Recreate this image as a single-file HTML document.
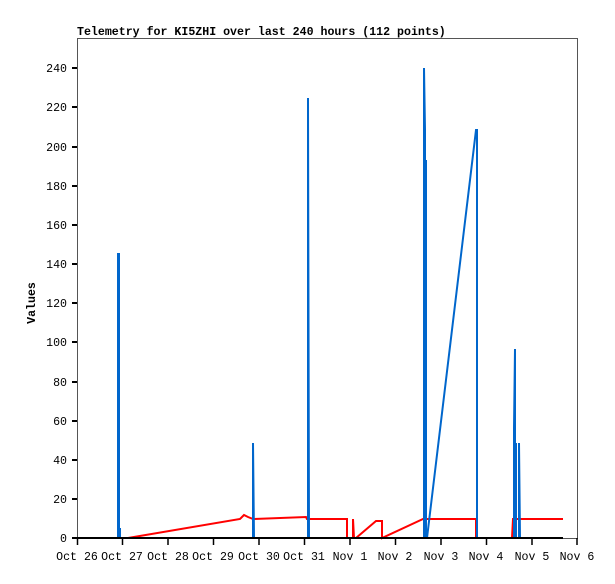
<!DOCTYPE html>
<html><head><style>
body{margin:0;background:#fff}
svg text{font-family:"Liberation Mono",monospace;font-size:11.6px;fill:#000}
</style></head><body>
<svg width="615" height="579" xmlns="http://www.w3.org/2000/svg">
<rect width="615" height="579" fill="#fff"/>
<text x="77" y="35" style="font-weight:bold">Telemetry for KI5ZHI over last 240 hours (112 points)</text>
<text transform="translate(35,303) rotate(-90)" text-anchor="middle" style="font-weight:bold">Values</text>
<rect x="77.5" y="38.5" width="500" height="500" fill="none" stroke="#555" stroke-width="1"/>
<g stroke="#000" stroke-width="2">
<line x1="72" y1="538" x2="77" y2="538"/><line x1="72" y1="499" x2="77" y2="499"/><line x1="72" y1="460" x2="77" y2="460"/><line x1="72" y1="421" x2="77" y2="421"/><line x1="72" y1="382" x2="77" y2="382"/><line x1="72" y1="342" x2="77" y2="342"/><line x1="72" y1="303" x2="77" y2="303"/><line x1="72" y1="264" x2="77" y2="264"/><line x1="72" y1="225" x2="77" y2="225"/><line x1="72" y1="186" x2="77" y2="186"/><line x1="72" y1="147" x2="77" y2="147"/><line x1="72" y1="107" x2="77" y2="107"/><line x1="72" y1="68" x2="77" y2="68"/>
</g>
<g text-anchor="end">
<text x="67" y="542">0</text><text x="67" y="503">20</text><text x="67" y="464">40</text><text x="67" y="425">60</text><text x="67" y="386">80</text><text x="67" y="346">100</text><text x="67" y="307">120</text><text x="67" y="268">140</text><text x="67" y="229">160</text><text x="67" y="190">180</text><text x="67" y="151">200</text><text x="67" y="111">220</text><text x="67" y="72">240</text>
</g>
<g stroke="#000" stroke-width="1.5">
<line x1="77.5" y1="538" x2="77.5" y2="545"/><line x1="122.5" y1="538" x2="122.5" y2="545"/><line x1="168" y1="538" x2="168" y2="545"/><line x1="213.5" y1="538" x2="213.5" y2="545"/><line x1="259" y1="538" x2="259" y2="545"/><line x1="304.5" y1="538" x2="304.5" y2="545"/><line x1="350" y1="538" x2="350" y2="545"/><line x1="395.5" y1="538" x2="395.5" y2="545"/><line x1="441" y1="538" x2="441" y2="545"/><line x1="486.5" y1="538" x2="486.5" y2="545"/><line x1="532" y1="538" x2="532" y2="545"/><line x1="577" y1="538" x2="577" y2="545"/>
</g>
<g text-anchor="middle">
<text x="77" y="560">Oct 26</text><text x="122" y="560">Oct 27</text><text x="168" y="560">Oct 28</text><text x="213" y="560">Oct 29</text><text x="259" y="560">Oct 30</text><text x="304" y="560">Oct 31</text><text x="350" y="560">Nov 1</text><text x="395" y="560">Nov 2</text><text x="441" y="560">Nov 3</text><text x="486" y="560">Nov 4</text><text x="532" y="560">Nov 5</text><text x="577" y="560">Nov 6</text>
</g>
<polyline fill="none" stroke="#ff0000" stroke-width="2" points="119,538 119,528 120,538 128,538 240,519 244,515 248,517 253,519 306,517 307,519 347,519 347,538 353,538 353,519 354,538 356,538 376,521 382,521 382,538 423,519 476,519 476,538 512,538 513,519 563,519"/>
<polyline fill="none" stroke="#0066cc" stroke-width="2" points="118,538 118,254 119,254 119,538 120,528 120,538 253,538 253,443 254,538 308,538 308,98 309,538 424,538 424,68 425,130 425,538 426,160 426,538 427,538 476,130 477,130 477,538 514,538 514,428 515,349 515,538 516,443 516,538 519,538 519,443 520,538"/>
<line x1="77" y1="538" x2="563" y2="538" stroke="#000" stroke-width="2"/>
</svg>
</body></html>
